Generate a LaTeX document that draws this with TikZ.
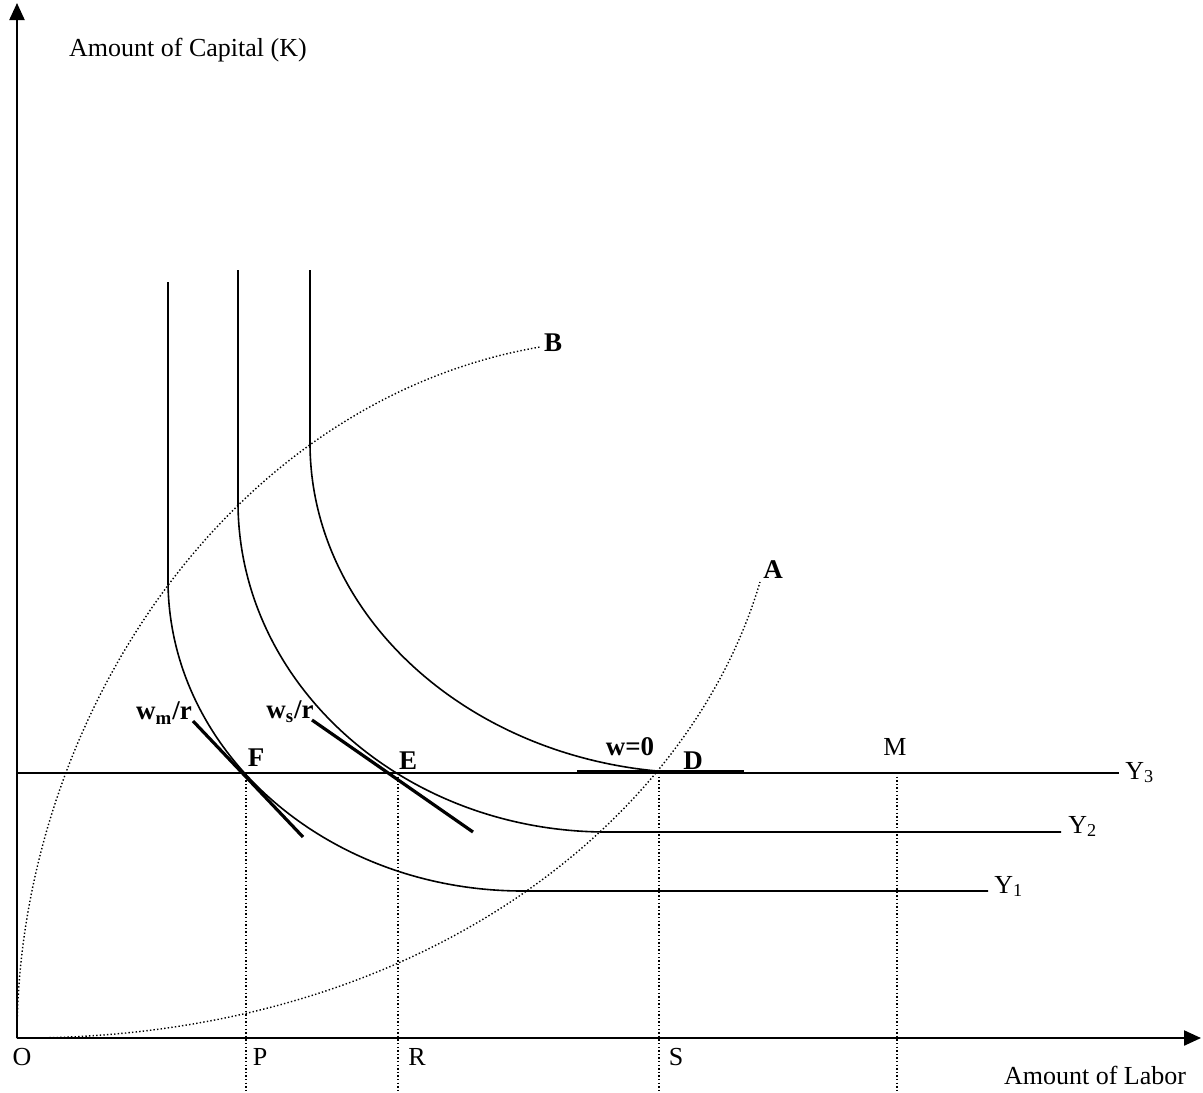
\documentclass[tikz,border=0pt]{standalone}
\usepackage{fontspec}
\setmainfont{Liberation Serif}
\usetikzlibrary{arrows.meta}

\begin{document}
\begin{tikzpicture}[
  x=0.5pt, y=-0.5pt,
  font=\fontsize{13}{15}\selectfont,
  axis/.style={line width=1.1pt, -{Triangle[length=8.5pt, width=7.5pt]}},
  iso/.style={line width=0.8pt},
  price/.style={line width=1.6pt},
  guide/.style={line width=0.7pt, dash pattern=on 0.7pt off 1.1pt},
  lbl/.style={inner sep=0pt},
  tag/.style={lbl, font=\fontsize{13.5}{15}\selectfont\bfseries},
]
\useasboundingbox (0,0) rectangle (1203,1092);

% ---- key points ------------------------------------------------------------
\coordinate (O) at (17,1038);
\coordinate (ktop) at (17,3);
\coordinate (ltop) at (1201,1038);
\coordinate (F) at (246,773);
\coordinate (E) at (398,773);
\coordinate (D) at (659,773);
\coordinate (M) at (897,773);
\coordinate (bottom) at (0,1092);
\coordinate (Aend) at (760,582);
\coordinate (Bend) at (540,347);

% ---- axes and drop lines ---------------------------------------------------
\draw[axis] (O) -- (ktop);
\draw[axis] (O) -- (ltop);
\foreach \p in {F,E,D,M}
  \draw[guide] (\p) -- (\p |- bottom);

% ---- expansion paths OA and OB ---------------------------------------------
\draw[guide] (O) .. controls (420,1040) and (690,820) .. (Aend);
\draw[guide] (O) .. controls (17,720) and (230,400) .. (Bend);

% ---- isoquants Y1, Y2, Y3 --------------------------------------------------
\draw[iso] (168,282) -- (168,580) .. controls (168,752) and (327,891)
  .. (523,891) -- (988,891);
\draw[iso] (238,270) -- (238,502) .. controls (238,684) and (403,832)
  .. (607,832) -- (1061,832);
\draw[iso] (310,270) -- (310,443) .. controls (310,625) and (485,773)
  .. (700,773);
\draw[iso] (O |- D) -- (1119,773);

% ---- factor price lines ----------------------------------------------------
\draw[price] (193,721) -- (303,837);
\draw[price] (312,720) -- (473,832);
\draw[price] (577,772) -- (744,772);

% ---- labels ----------------------------------------------------------------
\node[lbl] (klab) at (188,50) {Amount of Capital (K)};
\node[lbl] (llab) at (1095,1075) {Amount of Labor};
\foreach \n/\x in {O/22, P/260, R/417, S/676}
  \node[lbl] (lab\n) at (\x,1057) {\n};
\node[lbl] (labM) at (895,747) {M};
\node[lbl, anchor=base west] (labY3) at (1125,779) {Y\textsubscript{3}};
\node[lbl, anchor=base west] (labY2) at (1068,833) {Y\textsubscript{2}};
\node[lbl, anchor=base west] (labY1) at (994,893) {Y\textsubscript{1}};

\node[tag] (labF) at (256,758) {F};
\node[tag] (labE) at (408,761) {E};
\node[tag] (labD) at (693,761) {D};
\node[tag] (labA) at (773,570) {A};
\node[tag] (labB) at (553,343) {B};
\node[tag] (labw0) at (630,747) {w=0};
\node[tag] (labwm) at (164,713) {w\textsubscript{m}/r};
\node[tag] (labws) at (290,712) {w\textsubscript{s}/r};

\end{tikzpicture}
\end{document}
